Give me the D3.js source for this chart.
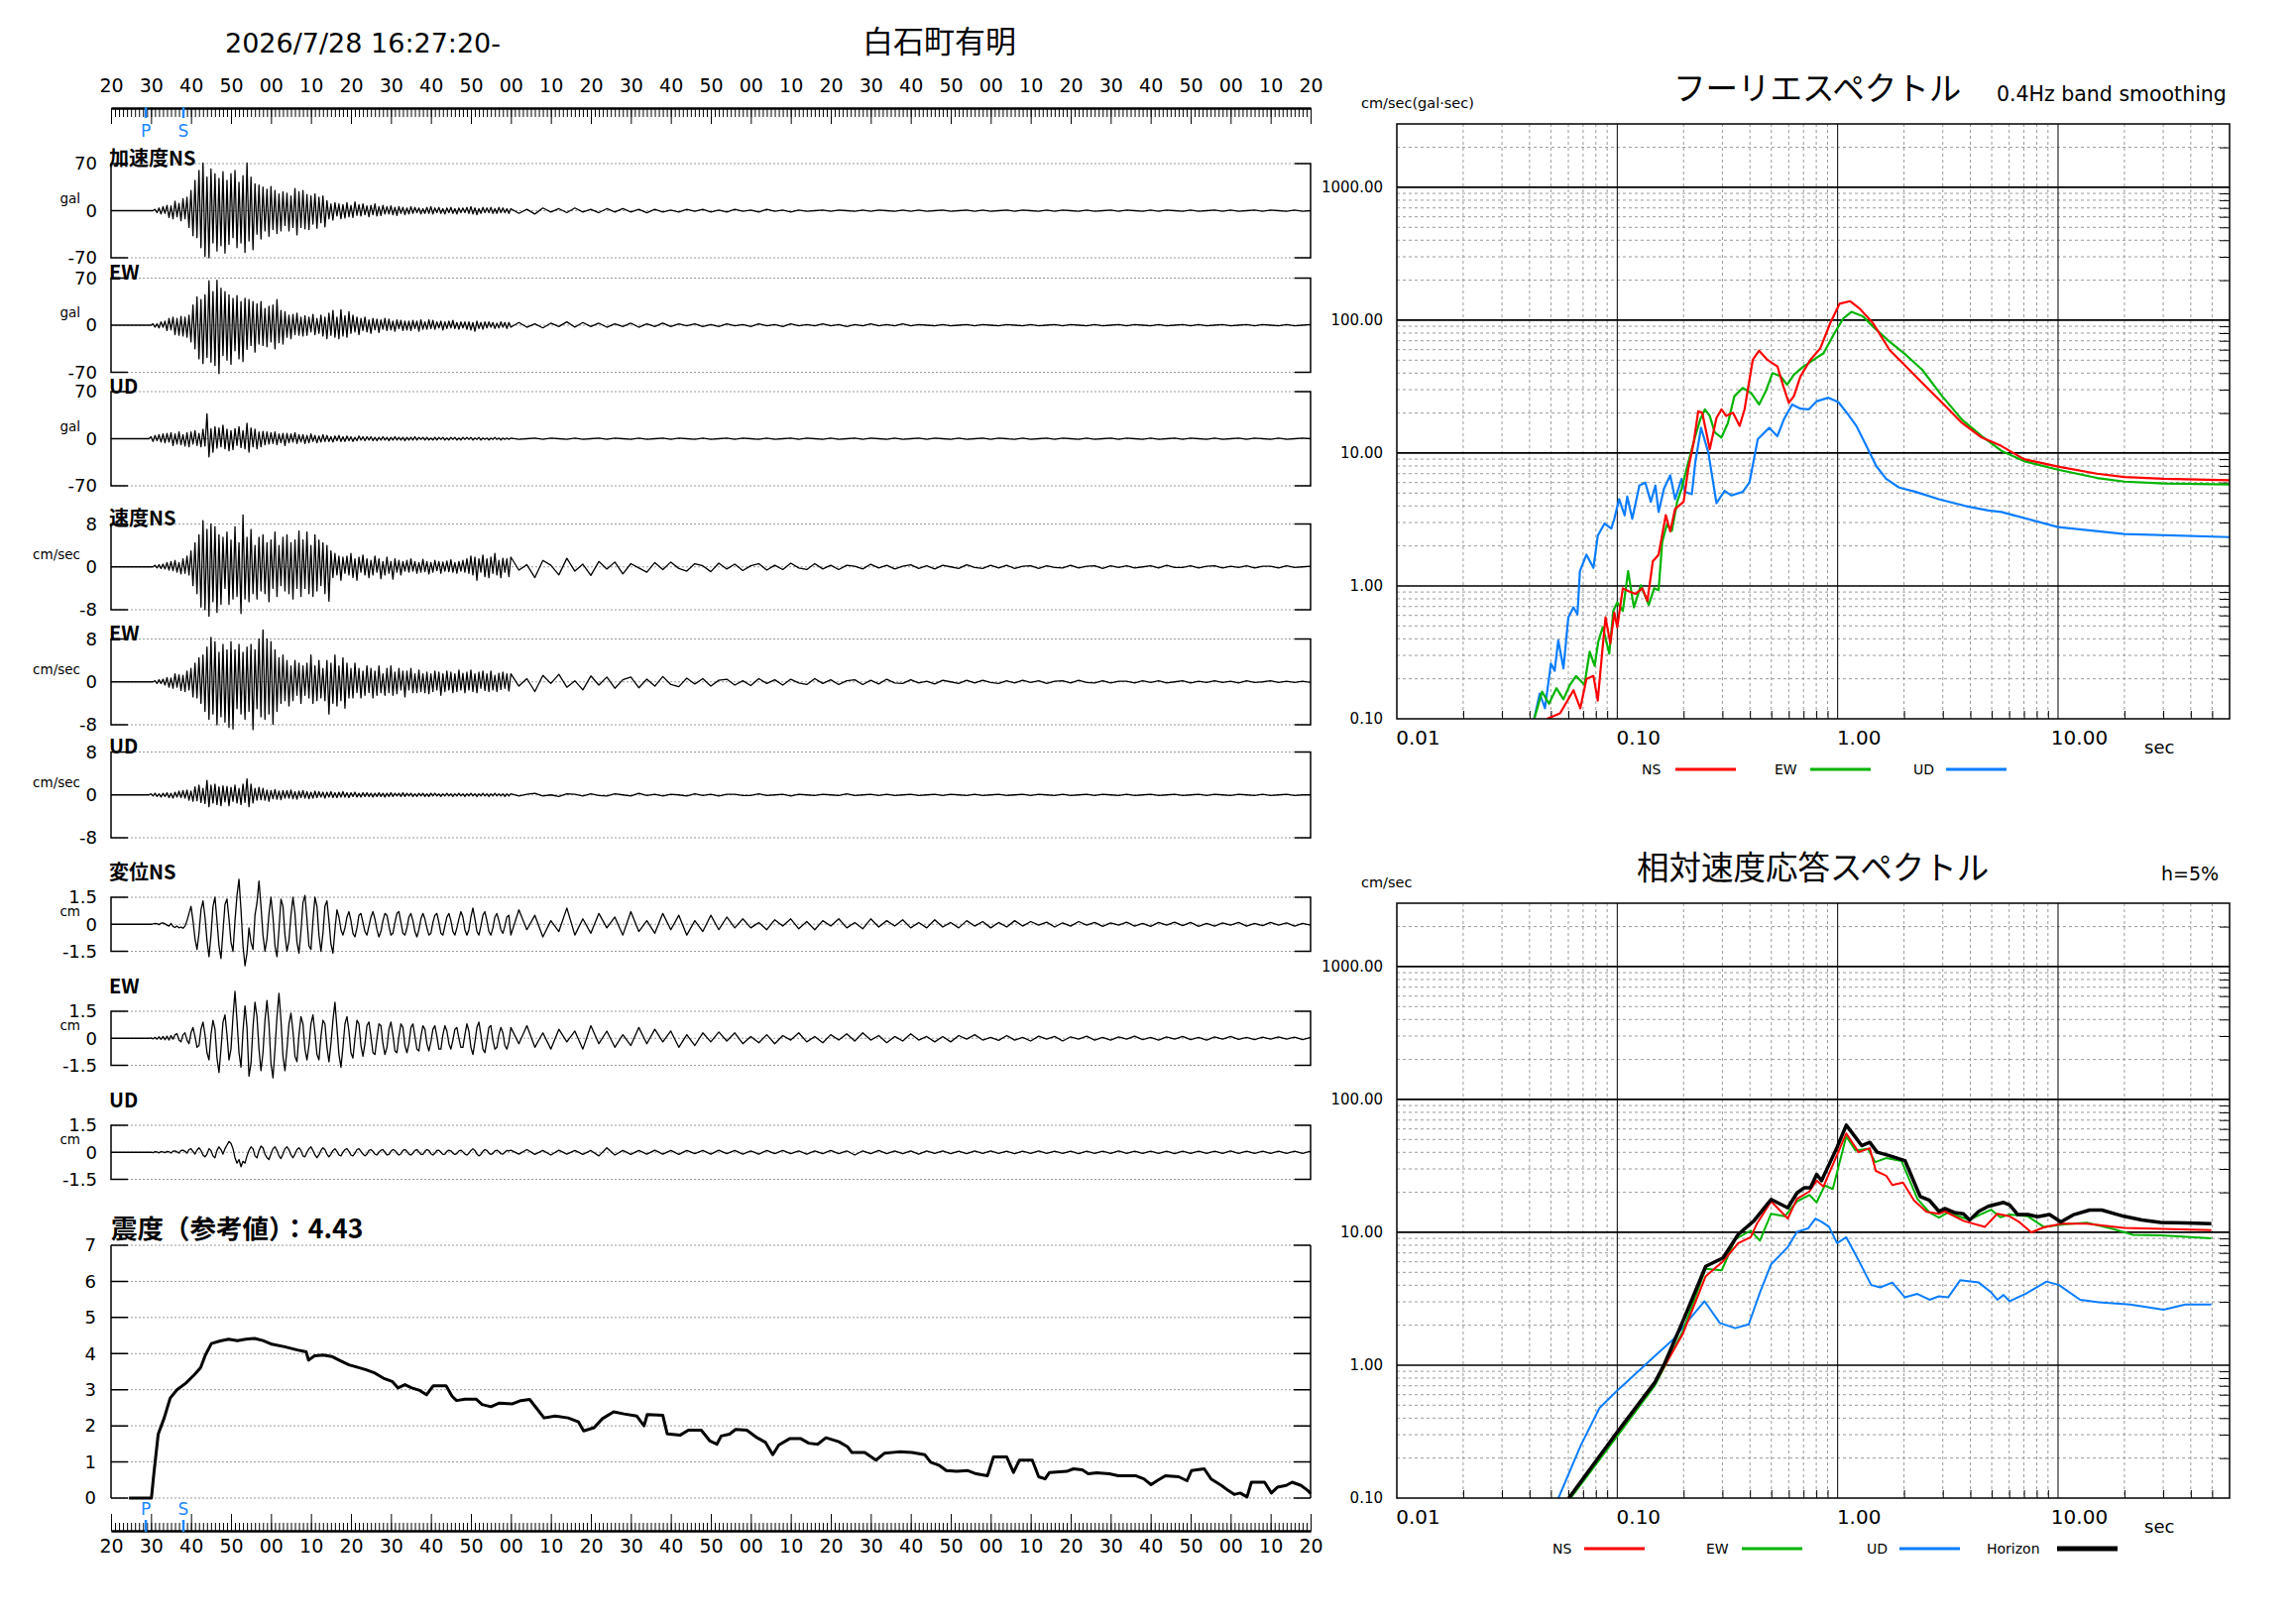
<!DOCTYPE html>
<html>
<head>
<meta charset="utf-8">
<script src="https://cdn.jsdelivr.net/npm/d3@7"></script>
<style>
body { margin: 0; background: #fff; }
svg text { font-family: "DejaVu Sans", sans-serif; fill: #000; }
svg text.jp { font-family: "Noto Sans CJK JP", sans-serif; }
</style>
</head>
<body>
<svg id="chart" width="2316" height="1637"></svg>
<script>
"use strict";
// ---- data read from the record ----
var startTime = new Date(2026, 6, 28, 16, 27, 20);
var endTime = new Date(2026, 6, 28, 16, 32, 20);
var stationName = "白石町有明";
var pTime = 8.7, sTime = 18.1;        // seconds after startTime
var headStart = 9, headStep = 0.5;    // seconds
var tailStart = 100, tailStep = 2;

var accNSHead = [0,0,0,0,2,-3,4,-5,6,-4, 8,-10,7,-12,14,-9,11,-15,18,-12, 20,-25,30,-37,45,-40,60,-55,71,-68,
  50,-70,62,-48,55,-60,48,-52,58,-63, 45,-50,55,-40,60,-55,42,-48,52,-62, 71,-45,50,-58,40,-35,38,-42,35,-30,
  32,-38,36,-28,30,-34,25,-30,28,-22, 26,-30,22,-25,33,-36,28,-25,30,-27, 24,-28,22,-20,25,-26,20,-18,22,-24,
  15,-12,10,-14,12,-8,10,-12,9,-11, 12,-9,8,-10,13,-7,9,-8,10,-6, 7,-9,8,-6,10,-8,6,-7,8,-5,
  6,-5,7,-6,5,-7,6,-4,5,-6, 4,-5,6,-4,5,-3,4,-5,3,-4, 5,-4,6,-5,4,-3,5,-4,3,-5,
  4,-3,5,-4,3,-5,4,-3,4,-3, 5,-4,6,-5,4,-6,3,-4,5,-3, 4,-3,5,-4,3,-4,5,-3,4,-3, 3,-4];
var accNSTail = [3,-4,2,-5,4,-2,3,-3,4,-2,2,-3,3,-2,3,-2,2,-3, 2,-2,1,-2,2,-1,2,-2,1,-2,2,-1,1,-2,2,-1,1,-2,
  1,-1,0,1,-1,1,0,-1,1,-1, 1,0,-1,1,-1,1,-1,0,1,-1, 0,1,-1,1,-1,0,1,-1,1,0, -1,1,-1,1,0,-1,1,-1,0,1,
  -1,1,0,-1,1,-1,1,0,-1,1, -1,0,1,-1,1,-1,0,1,-1,1, 0,-1,1,-1,0];
var accEWHead = [0,0,0,2,-3,2,-4,5,-3,6, -8,10,-7,12,-14,10,-15,13,-16,12, -18,15,-25,30,-35,42,-50,38,-57,45,
  -48,66,-55,50,-60,67,-72,55,-45,50, -52,45,-58,40,-38,44,-50,35,-54,40, -36,38,-30,35,-40,32,-28,35,-30,25,
  -32,28,-25,30,-35,38,-26,22,-28,20, -18,15,-20,16,-14,18,-15,12,-16,14, -15,12,-10,16,-14,10,-12,15,-16,12,
  -20,18,-15,22,-18,12,-20,23,-16,14, -18,20,-12,15,-10,12,-14,10,-8,12, -10,8,-12,10,-7,9,-11,8,-6,10,
  -8,9,-7,6,-9,8,-5,7,-8,6, -7,6,-8,7,-5,6,-9,8,-6,5, -6,8,-5,7,-6,5,-4,6,-7,5,
  -5,6,-4,7,-5,4,-6,5,-4,5, -6,5,-7,4,-9,6,-5,4,-6,5, -4,5,-3,4,-5,3,-4,5,-3,4, -5,4];
var accEWTail = [-3,4,-3,2,-4,3,-2,5,-3,4,-2,3,-3,2,-2,3,-3,2,-2,3,-2,
  2,-1,2,-2,1,-2,2,-1,1,-2, 2,-1,1,-2,2,-1,1,-1,2,-1, 1,-2,1,-1,2,-1,1,-1,2,-1,
  1,0,-1,1,-1,0,1,-1,1,0, -1,1,0,-1,1,-1,0,1,-1,1, 0,-1,1,-1,0,1,-1,1,0,-1, 1,-1,0,1,-1,1,-1,0,1,-1, 0,1,-1,1,0,-1,1,-1,0,1];
var accUDHead = [0,0,3,-4,5,-3,6,-5,7,-6, 8,-5,9,-10,7,-8,10,-9,6,-11, 9,-12,10,-8,12,-10,8,-12,14,-11,
  37,-27,15,-20,18,-14,16,-12,20,-15, 14,-18,12,-16,15,-10,18,-13,12,-15, 23,-20,16,-12,14,-15,10,-12,11,-9,
  10,-8,9,-7,10,-9,7,-6,8,-10, 8,-6,7,-5,9,-7,6,-5,6,-7, 5,-6,7,-4,5,-6,4,-5,6,-4,
  5,-4,3,-5,4,-3,5,-4,3,-4, 4,-3,3,-4,2,-3,4,-2,3,-3, 3,-2,3,-3,2,-3,2,-2,3,-2,
  2,-3,2,-2,3,-2,2,-2,2,-3, 2,-2,2,-2,3,-2,2,-1,2,-2, 2,-2,1,-2,2,-2,2,-1,2,-2,
  1,-2,2,-1,2,-2,1,-2,2,-1, 2,-1,2,-2,1,-1,2,-2,1,-1, 1,-2,1,-1,2,-1,1,-2,1,-1, 1,-1];
var accUDTail = [1,-1,0,1,-1,1,0,-1,1,-1, 0,1,-1,1,0,-1,1,-1,0,1, -1,1,0,-1,1,-1,0,1,-1,1, 0,-1,1,-1,0,1,-1,1,0,-1,
  1,-1,0,1,-1,1,0,-1,1,-1, 0,1,-1,1,0,-1,1,-1,0,1, -1,1,0,-1,1,-1,0,1,-1,1, 0,-1,1,-1,0,1,-1,1,0,-1,
  1,-1,0,1,-1,1,0,-1,1,-1, 0,1,-1,1,0,-1,1,-1,0,1, 0];

var velNSHead = [0,0,0,0,0.3,-0.2,0.4,-0.3,0.5,-0.4, 0.8,-0.6,1.0,-0.7,1.2,-1.0,0.8,-1.3,1.5,-1.2,
  2.0,-1.5,3.0,-3.5,4.5,-5.0,6.0,-7.5,8.6,-8.0, 7.0,-9.2,8.0,-6.5,7.5,-8.5,6.0,-7.0,5.5,-4.0,
  6.5,-7.0,5.0,-6.0,7.5,-5.5,4.5,-8.7,9.7,-6.0, 5.5,-6.5,7.0,-5.0,4.0,-6.0,5.5,-4.5,6.0,-5.0,
  4.5,-6.5,5.0,-4.0,6.5,-5.5,4.0,-3.5,5.5,-4.5, 6.0,-5.0,4.5,-6.0,5.0,-4.0,6.7,-5.5,5.0,-4.0,
  6.5,-5.0,4.0,-5.5,6.0,-4.5,5.0,-3.5,4.5,-5.0, 4.0,-6.4,3.0,-2.0,2.5,-1.5,2.0,-2.5,1.8,-1.2,
  2.0,-1.5,2.5,-2.0,1.5,-2.5,1.8,-1.0,2.2,-1.5, 1.5,-2.0,1.2,-1.5,2.0,-1.0,1.5,-2.2,1.0,-1.5,
  1.8,-1.2,1.0,-2.3,1.5,-1.0,1.2,-1.5,1.0,-0.8, 1.2,-1.0,1.5,-0.8,1.0,-1.2,0.8,-1.0,1.4,-0.9,
  1.0,-1.3,0.8,-1.0,1.2,-0.7,1.0,-1.2,0.9,-0.8, 1.1,-0.9,1.3,-1.0,0.8,-1.2,1.0,-0.8,1.2,-1.0,
  1.5,-1.2,2.0,-1.5,1.8,-2.5,1.5,-1.0,2.2,-1.8, 1.5,-2.0,1.8,-1.2,2.5,-1.5,1.2,-2.0,1.6,-1.0, 1.5,-1.8];
var velNSTail = [1.8,-0.6,0.4,-2.0,1.2,0.3,-1.5,1.6,-0.8,0.5,-1.6,1.0,-0.4,0.9,-1.3,0.6,-0.2,-1.0,
  0.8,-0.5,0.9,-0.3,-0.8,0.6,0.2,-0.9,0.7,-0.4,0.5,-0.7,0.2,0.6,-0.6,0.3,-0.5,0.7,-0.2,-0.5,0.6,-0.4,0.3,
  -0.5,0.3,0.1,-0.4,0.5,-0.2,0.3,-0.4,0.1,0.4, -0.3,0.2,-0.4,0.3,0.0,-0.3,0.4,-0.1,-0.3,0.3,
  -0.2,0.3,-0.3,0.1,0.2,-0.3,0.2,-0.1,-0.2,0.3, -0.2,0.1,0.2,-0.3,0.2,-0.1,0.2,-0.2,0.0,0.2,
  -0.2,0.3,-0.1,-0.1,0.2,-0.2,0.1,0.2,-0.2,0.1, -0.1,0.2,-0.2,0.1,0.1,-0.2,0.2,-0.1,0.0,0.1];
var velEWHead = [0,0,0,0,0.2,-0.3,0.4,-0.3,0.5,-0.6, 0.8,-1.0,0.7,-1.2,1.5,-1.0,1.3,-1.6,1.2,-1.8,
  2.0,-1.5,2.5,-2.8,3.5,-3.0,4.5,-4.0,5.0,-5.5, 6.5,-7.0,8.3,-6.0,7.5,-8.0,5.5,-6.5,7.0,-7.5,
  6.0,-8.5,7.5,-8.8,6.0,-5.0,7.0,-6.0,5.5,-7.0, 6.5,-5.5,7.0,-8.9,6.0,-5.0,8.0,-6.5,9.7,-7.0,
  8.0,-6.0,7.5,-7.9,6.0,-5.5,4.5,-4.0,5.0,-3.5, 4.0,-4.5,3.0,-3.5,4.0,-2.5,3.5,-4.0,3.0,-2.5,
  3.5,-3.0,5.0,-4.0,3.0,-3.5,4.0,-3.0,2.5,-3.5, 4.0,-6.0,3.5,-4.0,5.0,-4.5,3.0,-3.5,4.5,-4.9,
  3.5,-3.0,2.5,-3.0,3.5,-2.0,2.5,-3.0,2.0,-2.5, 3.0,-2.0,2.5,-3.0,2.0,-2.5,3.0,-2.0,1.5,-2.5,
  2.5,-2.0,3.0,-2.5,1.8,-2.2,2.5,-1.5,2.0,-2.8, 2.0,-1.5,2.5,-2.0,1.5,-2.0,2.2,-1.8,1.5,-2.0,
  1.8,-2.2,1.5,-1.8,2.0,-1.5,1.8,-2.5,1.5,-1.8, 2.0,-1.5,1.8,-2.0,1.5,-1.8,2.2,-1.5,1.6,-2.0,
  1.8,-1.5,2.2,-1.8,1.5,-2.0,1.8,-1.2,2.0,-1.6, 1.5,-1.8,2.0,-1.5,1.2,-1.8,1.6,-1.4,1.8,-1.2, 1.5,-1.7];
var velEWTail = [1.5,-0.8,0.6,-1.8,1.2,-0.3,1.4,-1.0,0.2,-1.5,1.1,-0.6,0.9,-1.2,0.4,0.9,-1.1,0.5,-0.8,1.0,-0.5,-0.9,
  0.7,-0.4,0.6,-0.8,0.3,0.5,-0.6,0.2,-0.7,0.6,-0.3,0.4,-0.6,0.5,-0.2,-0.5,0.6,-0.3,0.4,-0.5,0.2,0.4,-0.5,0.3,-0.4,0.5,-0.2,
  -0.3,0.4,-0.2,0.1,-0.4,0.3,0.0,-0.3,0.3,-0.2, 0.3,-0.1,-0.3,0.2,-0.2,0.3,-0.1,0.2,-0.3,0.1,
  0.2,-0.2,0.3,-0.1,-0.2,0.2,-0.2,0.1,0.1,-0.2, 0.2,-0.1,0.2,-0.2,0.0,0.2,-0.2,0.1,-0.1,0.2,
  -0.1,0.1,-0.2,0.2,-0.1,0.0,0.2,-0.1,0.1,-0.1, 0.1,-0.1];
var velUDHead = [0,0,0.2,-0.2,0.3,-0.3,0.2,-0.4,0.3,-0.3, 0.4,-0.5,0.3,-0.6,0.5,-0.4,0.7,-0.5,0.8,-0.6,
  0.9,-1.0,0.7,-1.2,1.5,-1.1,1.8,-1.4,1.2,-1.6, 2.7,-2.2,1.8,-1.5,2.0,-1.8,1.5,-2.0,1.7,-1.3,
  1.6,-2.0,1.4,-1.2,1.8,-1.5,1.2,-1.8,2.0,-1.4, 3.0,-2.2,2.0,-1.5,1.2,-1.0,1.4,-0.9,1.2,-1.0,
  0.9,-1.2,0.8,-0.7,1.0,-0.8,0.7,-0.9,0.8,-0.6, 0.8,-0.6,0.9,-0.7,0.6,-0.8,0.7,-0.5,0.8,-0.6,
  0.6,-0.7,0.5,-0.6,0.7,-0.5,0.6,-0.4,0.5,-0.6, 0.5,-0.4,0.6,-0.5,0.4,-0.5,0.5,-0.4,0.6,-0.4,
  0.4,-0.5,0.4,-0.3,0.5,-0.4,0.3,-0.4,0.4,-0.3, 0.4,-0.3,0.3,-0.4,0.3,-0.3,0.4,-0.3,0.3,-0.4,
  0.3,-0.3,0.4,-0.3,0.3,-0.2,0.3,-0.3,0.4,-0.3, 0.3,-0.2,0.3,-0.3,0.2,-0.3,0.3,-0.2,0.3,-0.3,
  0.2,-0.3,0.3,-0.2,0.3,-0.2,0.2,-0.3,0.2,-0.2, 0.3,-0.2,0.2,-0.3,0.2,-0.2,0.3,-0.2,0.2,-0.3,
  0.2,-0.2,0.3,-0.2,0.2,-0.3,0.2,-0.2,0.3,-0.2, 0.2,-0.3,0.2,-0.2,0.3,-0.2,0.2,-0.2,0.2,-0.3, 0.2,-0.2];
var velUDTail = [0.2,-0.2,0.1,0.3,-0.2,0.0,-0.3,0.2,0.1,-0.2, 0.2,-0.1,-0.2,0.2,0.0,-0.2,0.3,-0.1,0.1,-0.2,
  0.1,0.0,-0.2,0.2,-0.1,0.1,-0.2,0.1,0.1,-0.1, -0.1,0.2,-0.1,0.0,0.1,-0.2,0.1,0.0,-0.1,0.1,
  0.0,-0.1,0.2,-0.1,0.0,0.1,-0.1,0.1,-0.1,0.0, 0.1,-0.1,0.0,0.1,-0.1,0.1,0.0,-0.1,0.1,-0.1,
  0.0,0.1,-0.1,0.0,0.1,-0.1,0.1,0.0,-0.1,0.1, -0.1,0.0,0.1,-0.1,0.1,0.0,-0.1,0.1,-0.1,0.0,
  0.1,-0.1,0.0,0.1,-0.1,0.0,0.1,-0.1,0.1,0.0, -0.1,0.1,0.0,-0.1,0.1,-0.1,0.0,0.1,-0.1,0.0, 0.0];

var dispNSHead = [0,0,0,0.02,0.05,0.03,-0.02,0.06,0.08,0.02, -0.05,-0.1,0.05,-0.12,-0.18,-0.1,-0.2,-0.15,-0.22,-0.1,
  0.2,0.6,1.0,0.2,-0.8,-1.4,-0.5,0.8,1.3,0.4, -0.9,-1.8,-0.6,1.0,1.5,0.2,-1.2,-1.9,-0.4,1.1,
  1.4,0.3,-1.0,-1.5,0.2,1.6,2.5,0.8,-1.2,-2.3, -1.6,-0.2,-1.0,-1.4,0.5,1.2,2.4,1.0,-0.6,-1.5,
  -0.8,0.6,1.5,0.4,-1.2,-1.8,-0.3,1.4,1.0,-0.6, -1.5,-0.9,0.5,1.5,0.6,-1.0,-1.6,-0.4,1.2,1.6,
  0.3,-1.2,-1.4,0.2,1.5,1.0,-0.6,-1.5,-0.5,1.0, 1.3,0.2,-1.1,-1.6,-0.3,0.8,0.4,-0.3,-0.6,-0.2,
  0.4,0.7,0.2,-0.5,-0.7,-0.2,0.5,0.6,0.1,-0.4, -0.6,-0.1,0.4,0.7,0.3,-0.3,-0.7,-0.4,0.2,0.6,
  0.5,-0.1,-0.6,-0.5,0.1,0.6,0.7,0.1,-0.5,-0.6, -0.2,0.4,0.6,0.2,-0.4,-0.7,-0.3,0.3,0.6,0.3,
  -0.2,-0.6,-0.5,0.1,0.5,0.6,0.1,-0.5,-0.6,-0.1, 0.4,0.6,0.2,-0.4,-0.6,-0.2,0.3,0.7,0.4,-0.3,
  -0.6,-0.3,0.4,0.9,0.3,-0.4,-0.6,-0.1,0.5,0.7, 0.2,-0.4,-0.6,-0.2,0.4,0.6,0.2,-0.3,-0.5,-0.1, 0.4,0.5];
var dispNSTail = [-0.6,0.8,-0.3,0.5,-0.7,0.2,-0.4,0.9,-0.6,0.3, -0.5,0.6,-0.2,0.4,-0.6,0.7,-0.4,0.2,-0.5,0.6,
  -0.3,0.5,-0.6,0.2,-0.4,0.5,-0.3,0.4,-0.2,
  0.3,-0.2,0.1,-0.3,0.25,-0.1,0.3,-0.25,0.15,-0.3, 0.2,-0.1,0.3,-0.2,0.1,-0.25,0.3,-0.15,0.2,-0.1,
  0.25,-0.2,0.1,-0.2,0.25,-0.15,0.1,-0.2,0.2,-0.1, 0.15,-0.2,0.1,-0.15,0.2,
  -0.1,0.15,-0.05,0.12,-0.15,0.08,-0.1,0.15,-0.05,0.1, -0.12,0.08,-0.05,0.12,-0.1,0.05,-0.12,0.1,-0.05,0.12,
  -0.08,0.1,-0.12,0.05,-0.1,0.08,-0.05,0.1,-0.1,0.05, -0.08,0.1,-0.05,0.08,-0.1,0.05,-0.05];
var dispEWHead = [0,0,0.02,-0.03,0.05,-0.05,0.08,-0.06,0.1,-0.08, 0.12,-0.1,0.15,-0.05,0.2,0.25,-0.1,-0.2,0.2,0.3,
  -0.1,-0.3,0.3,0.6,0.1,-0.5,-0.4,0.5,0.9,0.2, -0.8,-1.2,0.2,1.0,0.5,-1.1,-1.9,-0.6,0.9,1.3,
  0.2,-1.2,-0.6,1.2,2.6,1.0,-0.8,-1.6,0.4,1.8, 0.6,-2.1,-1.4,0.6,2.0,1.2,-0.6,-1.8,-0.8,1.0,
  2.1,0.8,-1.4,-2.2,-0.6,1.2,2.5,1.0,-1.0,-1.8, -0.6,0.8,1.4,0.4,-1.0,-1.3,0.2,1.2,0.8,-0.6,
  -1.2,-0.4,0.8,1.3,0.3,-0.9,-1.2,0.1,1.0,0.8, -0.5,-1.3,-0.3,1.0,2.0,0.6,-0.9,-1.6,-0.5,0.8,
  1.2,0.4,-0.8,-1.1,0.0,1.0,0.8,-0.4,-1.0,-0.3, 0.7,0.9,0.1,-0.8,-0.9,0.0,0.8,0.7,-0.3,-0.9,
  -0.5,0.5,0.9,0.2,-0.7,-0.8,0.1,0.8,0.6,-0.4, -0.8,-0.3,0.6,0.8,0.1,-0.6,-0.7,0.1,0.7,0.5,
  -0.3,-0.7,-0.2,0.5,0.7,0.1,-0.6,-0.6,0.2,0.7, 0.4,-0.3,-0.6,-0.1,0.5,0.6,0.0,-0.5,-0.5,0.2,
  0.8,0.4,-0.5,-0.9,-0.2,0.6,0.9,0.2,-0.6,-0.8, -0.1,0.6,0.7,-0.1,-0.6,-0.5,0.2,0.6,0.3,-0.4, -0.6,-0.2];
var dispEWTail = [0.6,-0.3,0.7,-0.5,0.3,-0.6,0.5,-0.2,0.4,-0.6, 0.7,-0.3,0.4,-0.5,0.2,-0.4,0.6,-0.3,0.5,-0.2, 0.4,-0.5,0.2,-0.4,0.3,
  -0.2,0.35,-0.15,0.3,-0.3,0.1,-0.25,0.2,-0.3,0.15, -0.1,0.3,-0.2,0.1,-0.25,0.2,-0.1,0.25,-0.15,0.3, -0.1,0.15,-0.25,0.1,-0.15,0.25,-0.1,0.1,-0.2,
  0.1,-0.2,0.15,-0.05,0.2,-0.1,0.05,-0.12,0.15,-0.1, 0.05,-0.15,0.12,-0.05,0.1,-0.15,0.08,-0.05,0.12,-0.1,
  0.05,-0.1,0.08,-0.05,0.12,-0.08,0.05,-0.1,0.08,-0.05, 0.1,-0.08,0.05,-0.1,0.08,-0.05,0.1,-0.06,0.05,-0.08, 0.06,-0.05,0.08,-0.05,0.06,-0.08,0.05];
var dispUDHead = [0,0,0.01,-0.02,0.03,0.02,-0.03,0.04,0.02,-0.02, 0.05,0.03,-0.04,0.06,0.08,0.02,-0.05,0.1,0.12,0.05,
  -0.05,0.15,0.2,0.05,-0.1,0.12,0.25,0.1,-0.15,-0.25, -0.1,0.2,0.1,-0.2,-0.3,0.1,0.3,0.15,-0.1,0.2,
  0.4,0.6,0.5,0.2,-0.3,-0.6,-0.4,-0.8,-0.5,-0.6, -0.2,0.1,0.3,0.2,-0.2,-0.3,0.1,0.35,0.25,-0.1,
  -0.3,-0.4,-0.1,0.2,0.3,0.1,-0.2,-0.35,-0.1,0.2, 0.3,0.15,-0.15,-0.3,-0.1,0.15,0.25,0.1,-0.2,-0.25,
  0.0,0.2,0.3,0.1,-0.15,-0.3,-0.15,0.1,0.25,0.15, -0.1,-0.25,-0.1,0.1,0.2,0.05,-0.15,-0.2,0.0,0.15,
  0.2,0.05,-0.15,-0.2,-0.05,0.15,0.2,0.05,-0.1,-0.2, -0.1,0.1,0.15,0.05,-0.1,-0.15,0.0,0.12,0.15,0.0,
  -0.15,-0.12,0.05,0.15,0.1,-0.05,-0.15,-0.08,0.1,0.15, 0.05,-0.1,-0.15,-0.05,0.1,0.15,0.02,-0.12,-0.12,0.05,
  0.15,0.1,-0.08,-0.15,-0.05,0.1,0.12,0.0,-0.12,-0.1, 0.05,0.12,0.08,-0.05,-0.12,-0.06,0.08,0.12,0.02,-0.1,
  -0.15,-0.05,0.1,0.2,0.1,-0.1,-0.2,-0.12,0.05,0.15, 0.1,-0.05,-0.12,-0.06,0.08,0.12,0.04,-0.08,-0.1,0.0, 0.1,0.08];
var dispUDTail = [0.12,-0.1,0.15,-0.12,0.1,-0.15,0.12,-0.1,0.1,-0.12, 0.1,-0.2,0.25,-0.15,0.1,-0.12,0.1,-0.1,0.12,-0.1,
  0.1,-0.12,0.1,-0.08,0.1,-0.1,0.12,-0.08,0.1,-0.1, 0.08,-0.1,0.1,-0.08,0.1,-0.08,0.08,-0.1,0.08,-0.08,
  0.1,-0.08,0.08,-0.15,0.08,-0.08,0.1,-0.08,0.08,-0.08, 0.08,-0.1,0.08,-0.06,0.08,-0.08,0.06,-0.08,0.08,-0.06,
  0.08,-0.06,0.06,-0.08,0.06,-0.06,0.08,-0.06,0.06,-0.06, 0.06,-0.08,0.06,-0.06,0.06,-0.06,0.08,-0.06,0.06,-0.06,
  0.06,-0.06,0.06,-0.08,0.06,-0.06,0.06,-0.06,0.06,-0.06, 0.08,-0.06,0.06,-0.06,0.06,-0.06,0.06,-0.06,0.06,-0.06, 0.06];

// seismic intensity (reference value) over time: [seconds, value]
var intensityMax = "4.43";
var intensity = [[4.5,0],[10.1,0],[10.7,0.67],[11.8,1.77],[13.3,2.22],[14.8,2.77],[16.5,3.0],[18.7,3.18],[20.8,3.41],
  [22.4,3.61],[23.6,3.96],[25.1,4.28],[27.3,4.35],[29.4,4.4],[31.6,4.36],[33.7,4.4],[35.9,4.42],[38.0,4.36],[40.2,4.26],
  [43.4,4.19],[46.6,4.1],[48.8,4.05],[49.4,3.82],[50.9,3.94],[53.1,3.96],[55.2,3.92],[57.4,3.8],[59.5,3.69],[61.7,3.62],
  [63.8,3.55],[66.0,3.46],[68.1,3.32],[70.3,3.23],[71.8,3.05],[73.5,3.14],[75.2,3.05],[77.2,2.98],[78.9,2.86],[80.6,3.11],
  [83.8,3.11],[85.3,2.82],[86.4,2.7],[88.5,2.74],[91.3,2.74],[92.8,2.59],[95.0,2.53],[97.1,2.63],[100.4,2.61],[102.5,2.7],
  [104.7,2.73],[106.2,2.52],[108.3,2.22],[111.1,2.27],[114.3,2.22],[116.9,2.11],[118.2,1.86],[120.8,1.95],[122.9,2.2],
  [125.7,2.39],[128.3,2.33],[131.5,2.27],[133.3,2.0],[134.1,2.31],[138.0,2.29],[139.1,1.78],[142.3,1.74],[144.4,1.88],
  [147.6,1.88],[149.8,1.58],[151.5,1.49],[152.6,1.72],[154.7,1.77],[156.2,1.9],[159.0,1.88],[161.6,1.67],[163.7,1.54],
  [165.5,1.2],[167.0,1.47],[169.8,1.65],[172.4,1.65],[174.5,1.52],[176.7,1.49],[178.8,1.67],[182.0,1.56],[184.2,1.42],
  [185.3,1.26],[188.5,1.26],[191.3,1.05],[193.4,1.24],[197.1,1.28],[200.3,1.26],[203.5,1.2],[205.0,0.99],[207.2,0.9],
  [208.9,0.76],[211.5,0.74],[214.3,0.76],[216.4,0.67],[219.2,0.62],[220.7,1.14],[224.0,1.14],[225.7,0.71],[227.2,1.05],
  [230.4,1.05],[232.0,0.59],[233.6,0.53],[234.7,0.71],[239.0,0.74],[240.7,0.81],[242.9,0.78],[244.4,0.67],[246.5,0.7],
  [249.7,0.67],[251.9,0.62],[256.2,0.62],[258.3,0.53],[260.1,0.37],[261.6,0.48],[263.7,0.62],[267.0,0.59],[269.1,0.48],
  [270.2,0.76],[273.4,0.81],[275.1,0.53],[277.7,0.35],[279.4,0.21],[280.9,0.1],[282.4,0.14],[284.1,0.03],[285.2,0.44],
  [288.5,0.44],[290.2,0.14],[291.7,0.3],[293.9,0.35],[295.4,0.44],[297.6,0.35],[299.3,0.21],[300,0.12]];

// Fourier spectrum (0.4Hz band smoothing): [period sec, cm/sec]
var fourierNS = [[0.048,0.1],[0.055,0.11],[0.0633,0.164],[0.068,0.12],[0.0725,0.2],[0.078,0.21],[0.0816,0.137],[0.0853,0.307],
  [0.0885,0.58],[0.093,0.37],[0.097,0.63],[0.1,0.49],[0.106,0.96],[0.113,0.91],[0.121,0.87],[0.13,0.96],[0.137,0.77],
  [0.145,1.53],[0.154,1.72],[0.166,3.41],[0.174,2.57],[0.183,3.8],[0.2,4.3],[0.21,7.6],[0.222,11.9],[0.233,20.6],
  [0.243,20.1],[0.263,10.7],[0.282,18.4],[0.297,21.3],[0.312,19.0],[0.335,20.1],[0.359,16.0],[0.378,21.3],[0.412,50.3],
  [0.44,59.0],[0.48,50.3],[0.533,44.9],[0.567,31.8],[0.6,23.9],[0.633,26.8],[0.678,37.8],[0.752,50.3],[0.834,61.4],
  [0.924,94.4],[1.02,133],[1.14,139],[1.26,122],[1.45,94.4],[1.72,59.7],[2.04,44.9],[2.42,33.7],[2.98,23.9],[3.66,16.9],
  [4.5,13.1],[5.53,11.3],[7,9.0],[10,7.9],[15,7.0],[20,6.6],[30,6.4],[60,6.25]];
var fourierEW = [[0.042,0.1],[0.0456,0.16],[0.049,0.13],[0.053,0.17],[0.057,0.14],[0.061,0.18],[0.065,0.21],[0.071,0.18],
  [0.075,0.32],[0.079,0.25],[0.082,0.38],[0.086,0.49],[0.092,0.31],[0.096,0.65],[0.1,0.75],[0.106,0.65],[0.112,1.29],
  [0.119,0.69],[0.128,1.01],[0.139,0.72],[0.147,0.96],[0.154,0.93],[0.16,2.15],[0.168,2.9],[0.177,2.6],[0.187,4.3],
  [0.196,5.4],[0.21,8.5],[0.226,13.4],[0.238,17.9],[0.25,21.3],[0.263,19.0],[0.277,14.3],[0.297,13.1],[0.318,16.9],
  [0.34,26.8],[0.371,30.9],[0.405,28.3],[0.44,23.2],[0.472,29.2],[0.506,40.0],[0.551,37.8],[0.59,32.7],[0.633,38.9],
  [0.7,44.9],[0.778,50.3],[0.863,56.4],[0.956,77.3],[1.06,103],[1.155,115.5],[1.3,107],[1.45,89.2],[1.72,68.9],
  [2.04,54.8],[2.42,42.3],[2.98,26.8],[3.66,17.9],[4.5,13.4],[5.53,10.4],[7,8.7],[10,7.5],[15,6.5],[20,6.1],[30,5.9],[60,5.8]];
var fourierUD = [[0.042,0.1],[0.0445,0.155],[0.047,0.12],[0.05,0.26],[0.052,0.23],[0.054,0.39],[0.057,0.24],[0.06,0.58],
  [0.0633,0.69],[0.066,0.61],[0.0677,1.29],[0.0725,1.72],[0.078,1.37],[0.0816,2.39],[0.0876,2.95],[0.094,2.7],[0.097,3.2],
  [0.102,4.5],[0.108,3.4],[0.111,4.7],[0.117,3.2],[0.126,5.7],[0.134,6.0],[0.142,4.3],[0.149,5.7],[0.154,3.6],[0.163,5.4],
  [0.174,6.8],[0.183,4.5],[0.196,6.4],[0.203,5.1],[0.218,4.9],[0.226,8.5],[0.24,15.5],[0.259,10.1],[0.282,4.2],[0.307,5.2],
  [0.329,4.8],[0.371,5.1],[0.398,6.0],[0.434,12.7],[0.489,15.5],[0.533,13.4],[0.57,17.9],[0.622,23.2],[0.678,21.6],
  [0.739,21.3],[0.805,24.6],[0.908,26.1],[1.007,24.2],[1.116,19.5],[1.216,16.0],[1.35,11.3],[1.496,8.0],[1.658,6.4],
  [1.9,5.5],[2.26,5.1],[2.88,4.5],[3.79,4.0],[4.82,3.7],[5.53,3.6],[10,2.77],[20,2.46],[60,2.33]];

// relative velocity response spectrum (h=5%): [period sec, cm/sec]
var responseNS = [[0.06,0.1],[0.0995,0.305],[0.148,0.73],[0.198,1.71],[0.252,4.68],[0.302,6.05],[0.354,8.29],[0.403,9.18],
  [0.43,11.6],[0.499,17.1],[0.594,12.7],[0.654,17.9],[0.744,20.3],[0.803,24.5],[0.862,22.1],[1.094,55.5],[1.245,40.1],
  [1.398,43.0],[1.49,29.0],[1.66,26.7],[1.77,22.7],[1.98,23.7],[2.22,17.4],[2.53,14.3],[2.88,13.8],[3.06,14.4],[3.72,12.2],
  [4.66,11.0],[5.3,13.8],[6.03,13.2],[6.64,12.0],[7.56,10.0],[8.6,10.9],[10.4,11.6],[13.5,11.6],[19.9,10.8],[49.6,10.4]];
var responseEW = [[0.0615,0.1],[0.0995,0.29],[0.148,0.70],[0.198,1.79],[0.252,5.32],[0.298,5.18],[0.343,8.87],[0.403,10.3],
  [0.444,8.66],[0.499,13.8],[0.575,13.2],[0.654,17.1],[0.744,19.1],[0.803,16.8],[0.874,22.5],[0.95,21.2],[1.094,52.7],
  [1.205,41.2],[1.37,42.6],[1.48,33.8],[1.66,36.2],[1.95,34.4],[2.3,17.9],[2.61,14.1],[2.88,12.9],[3.17,14.1],[3.97,12.4],
  [4.52,13.8],[4.97,14.8],[5.47,13.0],[6.03,13.6],[7.3,13.2],[8.6,11.0],[10.8,11.5],[13.5,11.8],[17.4,10.7],[21.9,9.58],
  [29.2,9.5],[49.6,9.0]];
var responseUD = [[0.0541,0.1],[0.0684,0.25],[0.083,0.476],[0.0995,0.64],[0.122,0.87],[0.148,1.17],[0.18,1.57],[0.212,2.21],
  [0.249,3.03],[0.292,2.08],[0.343,1.9],[0.395,2.03],[0.444,3.53],[0.499,5.75],[0.594,7.74],[0.654,10.1],[0.734,10.7],
  [0.793,12.7],[0.846,12.0],[0.914,11.0],[0.994,8.29],[1.094,9.18],[1.245,6.15],[1.42,4.01],[1.56,3.85],[1.77,4.19],
  [2.02,3.24],[2.3,3.44],[2.61,3.11],[2.88,3.3],[3.17,3.24],[3.6,4.37],[4.37,4.19],[4.97,3.53],[5.3,3.11],[5.66,3.38],
  [6.03,3.03],[7.1,3.44],[8.87,4.26],[10.1,4.01],[12.6,3.11],[15.3,2.98],[21.2,2.86],[30.1,2.62],[37.8,2.86],[49.6,2.86]];
var responseHorizon = [[0.0603,0.1],[0.0995,0.311],[0.148,0.741],[0.164,1.03],[0.198,2.12],[0.252,5.55],[0.302,6.42],
  [0.354,9.66],[0.417,12.2],[0.499,17.7],[0.594,15.3],[0.654,19.8],[0.706,21.7],[0.753,21.7],[0.803,27.3],[0.846,24.5],
  [0.994,43.7],[1.094,64.1],[1.205,51.9],[1.285,44.9],[1.398,47.6],[1.51,40.1],[1.717,37.8],[2.02,34.7],[2.37,18.6],
  [2.61,17.4],[2.88,14.4],[3.06,15.1],[3.38,14.1],[3.72,13.8],[3.97,12.4],[4.37,14.4],[4.82,15.7],[5.66,16.8],[6.03,16.1],
  [6.56,13.6],[7.3,13.6],[8.06,13.1],[9.15,13.6],[10.3,11.96],[11.8,13.6],[13.9,14.7],[15.8,14.7],[19.9,13.2],[24.0,12.4],
  [29.2,11.86],[37.8,11.76],[49.6,11.6]];

var spectrumPeriodLabels = [0.01, 0.1, 1, 10];
var spectrumValueLabels = [0.1, 1, 10, 100, 1000];

// ---- drawing ----
var svg = d3.select("#chart");
var colors = { NS: "#ff0000", EW: "#00b400", UD: "#0a7dff", Horizon: "#000" };
var psBlue = "#1f86ff";
var L = 112, R = 1322;
var x = d3.scaleTime().domain([startTime, endTime]).range([L, R]);
var at = function (s) { return new Date(startTime.getTime() + s * 1000); };
var guide = function (sel) { return sel.attr("stroke", "#9a9a9a").attr("stroke-width", 1).attr("stroke-dasharray", "2,2"); };

svg.append("rect").attr("width", 2316).attr("height", 1637).attr("fill", "#fff");
svg.append("text").attr("x", 227).attr("y", 53).style("font-size", "27px").text(d3.timeFormat("%Y/%-m/%-d %H:%M:%S")(startTime) + "-");
svg.append("text").attr("class", "jp").attr("x", 870).attr("y", 53).style("font-size", "31px").text(stationName);

function ruler(y, down) {
    var g = svg.append("g").attr("transform", "translate(0," + y + ")");
    var tickAxis = down ? d3.axisBottom : d3.axisTop;
    var labelAxis = down ? d3.axisTop : d3.axisBottom;
    g.append("g").call(tickAxis(x).ticks(d3.timeSecond.every(1)).tickSize(down ? 9 : 8).tickSizeOuter(0).tickFormat(""));
    g.append("g").call(tickAxis(x).ticks(d3.timeSecond.every(10)).tickSize(down ? 16 : 17).tickSizeOuter(0).tickFormat(""));
    var lab = g.append("g").call(labelAxis(x).ticks(d3.timeSecond.every(10)).tickSize(0).tickPadding(down ? 16 : 9).tickFormat(d3.timeFormat("%S")));
    lab.select(".domain").remove();
    lab.selectAll("text").style("font-size", "19px").style("font-family", "DejaVu Sans");
    g.selectAll(".domain").attr("stroke-width", 2);
    [["P", pTime], ["S", sTime]].forEach(function (m) {
        var px = x(at(m[1]));
        g.append("line").attr("x1", px).attr("x2", px).attr("y1", down ? -1 : -11).attr("y2", down ? 10 : 1)
            .attr("stroke", psBlue).attr("stroke-width", 2.5);
        g.append("text").attr("x", px).attr("y", down ? 29 : -16).attr("text-anchor", "middle")
            .style("font-size", "17px").style("fill", psBlue).text(m[0]);
    });
}
ruler(109, true);

var panels = [
    { label: "加速度NS", unit: "gal", max: 70, top: 165, h: 95, head: accNSHead, tail: accNSTail },
    { label: "EW", unit: "gal", max: 70, top: 280.5, h: 95, head: accEWHead, tail: accEWTail },
    { label: "UD", unit: "gal", max: 70, top: 395, h: 95, head: accUDHead, tail: accUDTail },
    { label: "速度NS", unit: "cm/sec", max: 8, top: 528.5, h: 86.5, head: velNSHead, tail: velNSTail },
    { label: "EW", unit: "cm/sec", max: 8, top: 644.5, h: 86.5, head: velEWHead, tail: velEWTail },
    { label: "UD", unit: "cm/sec", max: 8, top: 758.5, h: 86.5, head: velUDHead, tail: velUDTail },
    { label: "変位NS", unit: "cm", max: 1.5, top: 905, h: 54.5, head: dispNSHead, tail: dispNSTail, above: true },
    { label: "EW", unit: "cm", max: 1.5, top: 1020, h: 54.5, head: dispEWHead, tail: dispEWTail, above: true },
    { label: "UD", unit: "cm", max: 1.5, top: 1135, h: 54.5, head: dispUDHead, tail: dispUDTail, above: true }
];

panels.forEach(function (p) {
    var y = d3.scaleLinear().domain([-p.max, p.max]).range([p.top + p.h, p.top]);
    var g = svg.append("g");
    [p.max, 0, -p.max].forEach(function (v) {
        guide(g.append("line").attr("x1", L).attr("x2", R).attr("y1", y(v)).attr("y2", y(v)));
    });
    g.append("path").attr("fill", "none").attr("stroke", "#000").attr("stroke-width", 1.5)
        .attr("d", "M" + (L + 17) + "," + y(p.max) + "H" + L + "V" + y(-p.max) + "H" + (L + 17) +
            "M" + (R - 16) + "," + y(p.max) + "H" + R + "V" + y(-p.max) + "H" + (R - 16));
    var ax = g.append("g").attr("transform", "translate(" + L + ",0)")
        .call(d3.axisLeft(y).tickValues([p.max, 0, -p.max]).tickSize(0).tickPadding(14).tickFormat(function (d) { return String(d); }));
    ax.select(".domain").remove();
    ax.selectAll("text").style("font-size", "18px");
    g.append("text").attr("x", L - 31).attr("y", y(0) - 8).attr("text-anchor", "end")
        .style("font-size", "13.5px").text(p.unit);
    g.append("text").attr("class", "jp").attr("x", L - 2).attr("y", p.above ? p.top - 18 : p.top + 1.5)
        .style("font-size", "20px").style("font-weight", "bold").text(p.label);
    var pts = [[0, 0]]
        .concat(p.head.map(function (v, i) { return [headStart + i * headStep, v]; }))
        .concat(p.tail.map(function (v, i) { return [tailStart + i * tailStep, v]; }));
    g.append("path").datum(pts).attr("fill", "none").attr("stroke", "#000").attr("stroke-width", 1.3)
        .attr("stroke-linejoin", "round")
        .attr("d", d3.line().x(function (d) { return x(at(d[0])); }).y(function (d) { return y(d[1]); }));
});

// seismic intensity panel
(function () {
    var y = d3.scaleLinear().domain([0, 7]).range([1511, 1256]);
    var g = svg.append("g");
    var levels = d3.range(0, 8);
    levels.forEach(function (v) {
        guide(g.append("line").attr("x1", L).attr("x2", R).attr("y1", y(v)).attr("y2", y(v)));
        g.append("path").attr("stroke", "#000").attr("stroke-width", 1.5)
            .attr("d", "M" + L + "," + y(v) + "H" + (L + 17) + "M" + (R - 17) + "," + y(v) + "H" + R);
    });
    g.append("path").attr("stroke", "#000").attr("stroke-width", 1.5)
        .attr("d", "M" + L + "," + y(7) + "V" + y(0) + "M" + R + "," + y(7) + "V" + y(0));
    var ax = g.append("g").attr("transform", "translate(" + L + ",0)")
        .call(d3.axisLeft(y).tickValues(levels).tickSize(0).tickPadding(15).tickFormat(d3.format("d")));
    ax.select(".domain").remove();
    ax.selectAll("text").style("font-size", "18px");
    g.append("text").attr("class", "jp").attr("x", L).attr("y", 1249).style("font-size", "26.5px")
        .style("font-weight", "bold").text("震度（参考値）：" + intensityMax);
    g.append("path").datum(intensity).attr("fill", "none").attr("stroke", "#000").attr("stroke-width", 3)
        .attr("stroke-linejoin", "round")
        .attr("d", d3.line().x(function (d) { return x(at(d[0])); }).y(function (d) { return y(d[1]); }));
})();
ruler(1544, false);

// spectra
function spectrum(cfg) {
    var top = cfg.top, bottom = top + 600, left = 1409, right = 2249;
    var sx = d3.scaleLog().domain([0.01, 60]).range([left, right]);
    var sy = d3.scaleLog().domain([0.1, 3000]).range([bottom, top]);
    var g = svg.append("g");
    var isDecade = function (v) { var l = Math.log10(v); return Math.abs(l - Math.round(l)) < 1e-6; };
    var xt = sx.ticks().filter(function (v) { return v > 0.0100001 && v < 59.99; });
    var yt = sy.ticks().filter(function (v) { return v > 0.100001 && v < 2999; });
    var xMinor = xt.filter(function (v) { return !isDecade(v); }), xMajor = xt.filter(isDecade);
    var yMinor = yt.filter(function (v) { return !isDecade(v); }), yMajor = yt.filter(isDecade);
    var dash = function (sel) { return sel.attr("stroke", "#9a9a9a").attr("stroke-width", 1).attr("stroke-dasharray", "3,3"); };
    xMinor.forEach(function (v) { dash(g.append("line").attr("x1", sx(v)).attr("x2", sx(v)).attr("y1", top).attr("y2", bottom)); });
    yMinor.forEach(function (v) { dash(g.append("line").attr("x1", left).attr("x2", right).attr("y1", sy(v)).attr("y2", sy(v))); });
    xMajor.forEach(function (v) {
        g.append("line").attr("x1", sx(v)).attr("x2", sx(v)).attr("y1", top).attr("y2", bottom).attr("stroke", "#000").attr("stroke-width", 1);
    });
    yMajor.forEach(function (v) {
        g.append("line").attr("x1", left).attr("x2", right).attr("y1", sy(v)).attr("y2", sy(v)).attr("stroke", "#000").attr("stroke-width", 1.7);
    });
    g.append("g").attr("transform", "translate(0," + bottom + ")")
        .call(d3.axisTop(sx).tickValues(xMinor).tickSize(8).tickSizeOuter(0).tickFormat(""))
        .select(".domain").remove();
    g.append("g").attr("transform", "translate(" + right + ",0)")
        .call(d3.axisLeft(sy).tickValues(yMinor).tickSize(10).tickSizeOuter(0).tickFormat(""))
        .select(".domain").remove();
    var line = d3.line().x(function (d) { return sx(d[0]); }).y(function (d) { return sy(d[1]); });
    var clipId = "clip" + top;
    svg.append("clipPath").attr("id", clipId).append("rect")
        .attr("x", left).attr("y", top).attr("width", right - left).attr("height", bottom - top);
    cfg.series.forEach(function (s) {
        g.append("path").datum(s.data).attr("clip-path", "url(#" + clipId + ")").attr("fill", "none")
            .attr("stroke", colors[s.name]).attr("stroke-width", s.width).attr("stroke-linejoin", "round").attr("d", line);
    });
    g.append("rect").attr("x", left).attr("y", top).attr("width", right - left).attr("height", bottom - top)
        .attr("fill", "none").attr("stroke", "#000").attr("stroke-width", 1.5);
    var xl = g.append("g").attr("transform", "translate(21," + bottom + ")")
        .call(d3.axisBottom(sx).tickValues(spectrumPeriodLabels).tickSize(0).tickPadding(12).tickFormat(d3.format(".2f")));
    xl.select(".domain").remove();
    xl.selectAll("text").style("font-size", "20px");
    var yl = g.append("g").attr("transform", "translate(" + left + ",0)")
        .call(d3.axisLeft(sy).tickValues(spectrumValueLabels).tickSize(0).tickPadding(14).tickFormat(d3.format(".2f")));
    yl.select(".domain").remove();
    yl.selectAll("text").style("font-size", "15px");
    g.append("text").attr("x", 2163).attr("y", bottom + 35).style("font-size", "18px").text("sec");
    g.append("text").attr("class", "jp").attr("x", cfg.titleX).attr("y", top - 24).style("font-size", "32.5px").text(cfg.title);
    g.append("text").attr("x", cfg.noteX).attr("y", top - 23).style("font-size", cfg.noteSize).text(cfg.note);
    g.append("text").attr("x", 1373).attr("y", top - 16).style("font-size", "14.5px").text(cfg.unit);
    var ly = bottom + 51;
    cfg.legend.forEach(function (k) {
        g.append("text").attr("x", k.x).attr("y", ly + 5).style("font-size", "14px").text(k.name);
        g.append("line").attr("x1", k.lx).attr("x2", k.lx + 61).attr("y1", ly).attr("y2", ly)
            .attr("stroke", colors[k.name]).attr("stroke-width", k.name === "Horizon" ? 5 : 3);
    });
}

spectrum({
    top: 125, title: "フーリエスペクトル", titleX: 1688, note: "0.4Hz band smoothing", noteX: 2014, noteSize: "20.5px",
    unit: "cm/sec(gal·sec)",
    series: [{ name: "UD", data: fourierUD, width: 2.2 }, { name: "EW", data: fourierEW, width: 2.2 }, { name: "NS", data: fourierNS, width: 2.2 }],
    legend: [{ name: "NS", x: 1656, lx: 1690 }, { name: "EW", x: 1790, lx: 1826 }, { name: "UD", x: 1930, lx: 1963 }]
});
spectrum({
    top: 911, title: "相対速度応答スペクトル", titleX: 1651, note: "h=5%", noteX: 2180, noteSize: "19px", unit: "cm/sec",
    series: [{ name: "UD", data: responseUD, width: 2 }, { name: "EW", data: responseEW, width: 2 },
        { name: "NS", data: responseNS, width: 2 }, { name: "Horizon", data: responseHorizon, width: 3.5 }],
    legend: [{ name: "NS", x: 1566, lx: 1598 }, { name: "EW", x: 1721, lx: 1757 }, { name: "UD", x: 1883, lx: 1916 },
        { name: "Horizon", x: 2004, lx: 2075 }]
});
</script>
</body>
</html>
